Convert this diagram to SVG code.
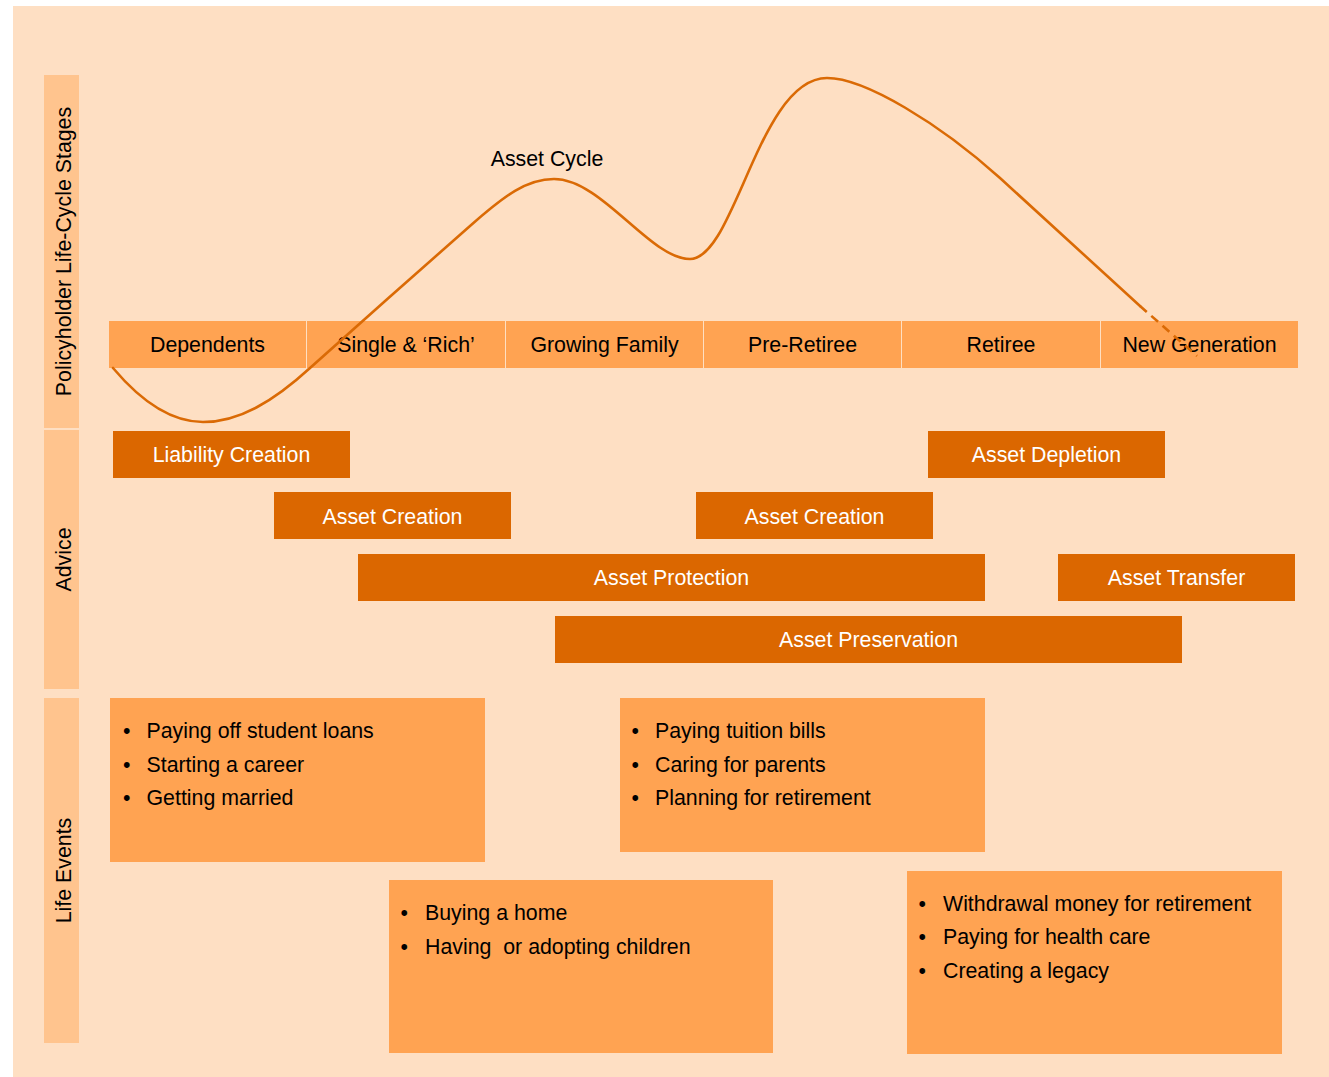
<svg xmlns="http://www.w3.org/2000/svg" width="1329" height="1077" viewBox="0 0 1329 1077">
  <style>
    text { font-family: "Liberation Sans", Arial, sans-serif; font-size: 21.33px; }
    .side { fill: #FFC48E; }
    .side-label { fill: #000; text-anchor: middle; }
    .stage { fill: #FFA352; }
    .stage-label { fill: #000; text-anchor: middle; }
    .advice { fill: #DB6700; }
    .advice-label { fill: #FFF; text-anchor: middle; }
    .event { fill: #FFA352; }
    .event-text { fill: #000; }
    .curve { fill: none; stroke: #DA6A05; stroke-width: 2.6; stroke-linecap: round; stroke-linejoin: round; }
    .curve-dash { stroke-dasharray: 9 6; stroke-linecap: butt; }
  </style>

  <!-- page background -->
  <rect x="0" y="0" width="1329" height="1077" fill="#FFFFFF"/>
  <rect x="13" y="6" width="1316" height="1071" fill="#FEDFC3"/>

  <!-- row headers -->
  <g id="row-stages">
    <rect class="side" x="44" y="75" width="35" height="353"/>
    <text class="side-label" transform="translate(70.5 251.5) rotate(-90)">Policyholder Life-Cycle Stages</text>
  </g>
  <g id="row-advice">
    <rect class="side" x="44" y="430" width="35" height="259"/>
    <text class="side-label" transform="translate(70.5 559.5) rotate(-90)">Advice</text>
  </g>
  <g id="row-events">
    <rect class="side" x="44" y="698" width="35" height="345"/>
    <text class="side-label" transform="translate(70.5 870.5) rotate(-90)">Life Events</text>
  </g>

  <!-- life-cycle stages -->
  <g id="stage-dependents">
    <rect class="stage" x="109" y="321" width="197" height="47"/>
    <text class="stage-label" x="207.5" y="352">Dependents</text>
  </g>
  <g id="stage-single">
    <rect class="stage" x="307" y="321" width="198" height="47"/>
    <text class="stage-label" x="406" y="352">Single &amp; ‘Rich’</text>
  </g>
  <g id="stage-family">
    <rect class="stage" x="506" y="321" width="197" height="47"/>
    <text class="stage-label" x="604.5" y="352">Growing Family</text>
  </g>
  <g id="stage-preretiree">
    <rect class="stage" x="704" y="321" width="197" height="47"/>
    <text class="stage-label" x="802.5" y="352">Pre-Retiree</text>
  </g>
  <g id="stage-retiree">
    <rect class="stage" x="902" y="321" width="198" height="47"/>
    <text class="stage-label" x="1001" y="352">Retiree</text>
  </g>
  <g id="stage-newgen">
    <rect class="stage" x="1101" y="321" width="197" height="47"/>
    <text class="stage-label" x="1199.5" y="352">New Generation</text>
  </g>

  <!-- advice bars -->
  <g id="advice-liability-creation">
    <rect class="advice" x="113" y="431" width="237" height="47"/>
    <text class="advice-label" x="231.5" y="462">Liability Creation</text>
  </g>
  <g id="advice-asset-creation-1">
    <rect class="advice" x="274" y="492" width="237" height="47"/>
    <text class="advice-label" x="392.5" y="524">Asset Creation</text>
  </g>
  <g id="advice-asset-creation-2">
    <rect class="advice" x="696" y="492" width="237" height="47"/>
    <text class="advice-label" x="814.5" y="524">Asset Creation</text>
  </g>
  <g id="advice-asset-depletion">
    <rect class="advice" x="928" y="431" width="237" height="47"/>
    <text class="advice-label" x="1046.5" y="462">Asset Depletion</text>
  </g>
  <g id="advice-asset-protection">
    <rect class="advice" x="358" y="554" width="627" height="47"/>
    <text class="advice-label" x="671.5" y="585">Asset Protection</text>
  </g>
  <g id="advice-asset-transfer">
    <rect class="advice" x="1058" y="554" width="237" height="47"/>
    <text class="advice-label" x="1176.5" y="585">Asset Transfer</text>
  </g>
  <g id="advice-asset-preservation">
    <rect class="advice" x="555" y="616" width="627" height="47"/>
    <text class="advice-label" x="868.5" y="647">Asset Preservation</text>
  </g>

  <!-- life events -->
  <g id="events-early">
    <rect class="event" x="110" y="698" width="375" height="164"/>
    <text class="event-text" x="123" y="738">•</text>
    <text class="event-text" x="146.5" y="738">Paying off student loans</text>
    <text class="event-text" x="123" y="771.5">•</text>
    <text class="event-text" x="146.5" y="771.5">Starting a career</text>
    <text class="event-text" x="123" y="805">•</text>
    <text class="event-text" x="146.5" y="805">Getting married</text>
  </g>
  <g id="events-family">
    <rect class="event" x="389" y="880" width="384" height="173"/>
    <text class="event-text" x="400.5" y="920">•</text>
    <text class="event-text" x="425" y="920">Buying a home</text>
    <text class="event-text" x="400.5" y="954">•</text>
    <text class="event-text" x="425" y="954" xml:space="preserve">Having  or adopting children</text>
  </g>
  <g id="events-midlife">
    <rect class="event" x="620" y="698" width="365" height="154"/>
    <text class="event-text" x="631.5" y="738">•</text>
    <text class="event-text" x="655" y="738">Paying tuition bills</text>
    <text class="event-text" x="631.5" y="771.5">•</text>
    <text class="event-text" x="655" y="771.5">Caring for parents</text>
    <text class="event-text" x="631.5" y="805">•</text>
    <text class="event-text" x="655" y="805">Planning for retirement</text>
  </g>
  <g id="events-retirement">
    <rect class="event" x="907" y="871" width="375" height="183"/>
    <text class="event-text" x="918.5" y="911">•</text>
    <text class="event-text" x="943" y="911">Withdrawal money for retirement</text>
    <text class="event-text" x="918.5" y="944">•</text>
    <text class="event-text" x="943" y="944">Paying for health care</text>
    <text class="event-text" x="918.5" y="977.5">•</text>
    <text class="event-text" x="943" y="977.5">Creating a legacy</text>
  </g>

  <!-- asset cycle curve -->
  <g id="connectors">
    <path class="curve" d="M113,368 C140,400 170,422 203,422 C240,422 275,400 310,368 C360,323 420,270 470,226 C505,195 527,179 554,179 C602,179 650,259 690,259 C735,259 759,78 827,78 C865,78 940,124 1000,178 L1140,306"/>
    <path class="curve curve-dash" d="M1140,306 L1197,356"/>
    <text id="asset-cycle-label" x="547" y="166" text-anchor="middle" fill="#000">Asset Cycle</text>
  </g>
</svg>
